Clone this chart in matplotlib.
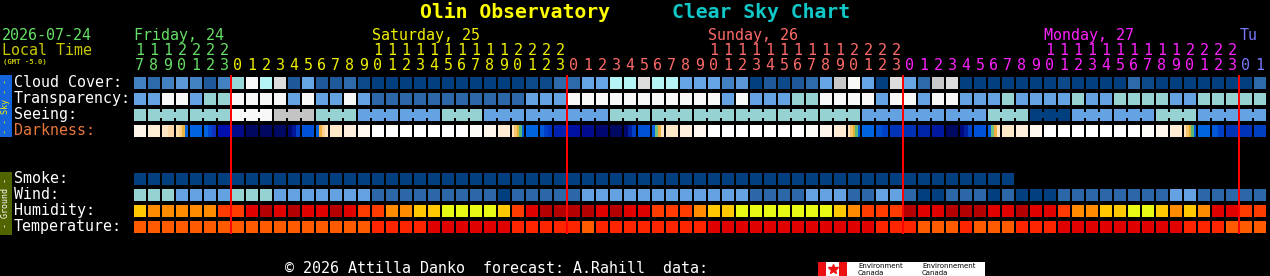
"""
Clear Sky Chart for Olin Observatory, redrawn with matplotlib
"""
import matplotlib
matplotlib.use('Agg')
import matplotlib.pyplot as plt

W, H = 1270, 276
X0 = 134          # left edge of the first hour cell
PITCH = 14        # one hour
CELL = 12
MONO = 'DejaVu Sans Mono'
FS = 10.8

START_HOUR = 17   # first column is Friday 17:00 local
N_HOURS = 81

day_labels = ['Friday, 24', 'Saturday, 25', 'Sunday, 26', 'Monday, 27', 'Tu']
day_colors = ['#66e066', '#f0f000', '#ff6a6a', '#ff22ff', '#7878ff']

# ---- sky rows (palette index per hour) ----
CLOUD_COLORS = ['#023f7f', '#0c4a8a', '#1e5a9a', '#2c6aaa', '#4282c2', '#5a98d8',
                '#66a6e6', '#98d8d8', '#b4f4f4', '#c8c8c8', '#dcdcdc', '#f8f8f8']
cloud = [4, 3, 4, 5, 4, 2, 4, 7, 11, 8,
         10, 2, 6, 2, 2, 3, 1, 0, 0, 0,
         0, 0, 0, 0, 0, 0, 0, 0, 1, 1,
         3, 3, 6, 6, 8, 8, 10, 8, 8, 6,
         6, 6, 4, 5, 0, 2, 1, 2, 3, 6,
         9, 11, 6, 0, 10, 6, 3, 9, 10, 0,
         0, 0, 0, 0, 0, 0, 1, 0, 0, 0,
         0, 3, 1, 0, 0, 0, 0, 0, 0, 0,
         3]

TRANSP_COLORS = ['#f8f8f8', '#96d2d2', '#64a2e2', '#2c68a8']
transparency = [2, 2, 0, 0, 2, 1, 1, 0, 0, 0,
                0, 2, 0, 2, 2, 0, 2, 3, 3, 3,
                3, 3, 3, 3, 3, 3, 3, 3, 2, 2,
                2, 0, 0, 0, 0, 0, 0, 0, 0, 0,
                0, 0, 2, 0, 2, 2, 2, 1, 1, 0,
                0, 0, 0, 2, 0, 0, 2, 0, 0, 2,
                2, 2, 1, 2, 2, 2, 2, 1, 2, 2,
                1, 1, 1, 1, 2, 2, 1, 1, 1, 1,
                1]

SEEING_COLORS = ['#023f7f', '#64a2e2', '#96d2d2', '#c4c4c4', '#f8f8f8']
seeing = [2,
          2, 2, 2, 2, 2, 2, 4, 4, 4, 3, 3, 3, 2, 2, 2, 1, 1, 1,
          1, 1, 1, 2, 2, 2, 1, 1, 1, 1, 1, 1, 1, 1, 1, 2, 2, 2,
          2, 2, 2, 2, 2, 2, 2, 2, 2, 2, 2, 2, 2, 2, 2, 1, 1, 1,
          1, 1, 1, 1, 1, 1, 2, 2, 2, 0, 0, 0, 1, 1, 1, 1, 1, 1,
          2, 2, 2, 1, 1, 1,
          1, 1]

WH = '#ffffff'
TW_EVE = ('#fde2bc', '#f6c46a', '#e0b030', '#58b878', '#0060e0')
TW_MORN = ('#0060e0', '#70c080', '#f0b040', '#fde6c6')
darkness = [
    ('#fff6ea',), ('#fdeed6',), ('#fde6c6', '#fcd8a8'),
    ('#fde0b0', '#fccf8a', '#e8b43c', '#0064e0'),
    ('#0064e0',), ('#0064e0', '#0046d0', '#1030c0'), ('#0010b0',),
    ('#000a8a',), ('#000862',), ('#000862',), ('#000862',),
    ('#000870', '#001898', '#0040c8'), ('#0050d8',),
    ('#0064e0', '#f0b040', '#fcd090', '#fde4c0'),
    ('#fde8c8',), ('#fef0dc',), ('#fff8ee',),
    (WH,), (WH,), (WH,), (WH,), (WH,), (WH,), (WH,),
    ('#fffcf8',), ('#fff6ec',), ('#feecd4',), TW_EVE,
    ('#0064e0',), ('#0058d8', '#0040c8', '#0030c0'), ('#0020b0',),
    ('#0010a0',), ('#000c90',), ('#000870',), ('#000862',),
    ('#000870', '#0020a0', '#0040c8'), ('#0050d8',), TW_MORN,
    ('#fde8c8',), ('#fef0dc',), ('#fff8ee',),
    (WH,), (WH,), (WH,), (WH,), (WH,), (WH,), (WH,),
    ('#fffcf8',), ('#fff6ec',), ('#feecd4',), TW_EVE,
    ('#0064e0',), ('#0050d0', '#0040c8'), ('#0034b8',),
    ('#0030b4',), ('#0024a8',), ('#0018a0',), ('#000862',),
    ('#000a80', '#0020a0', '#0044c8'), ('#0050d8',), TW_MORN,
    ('#fde8c8',), ('#fef0dc',), ('#fff8ee',),
    (WH,), (WH,), (WH,), (WH,), (WH,), (WH,), (WH,),
    ('#fffcf8',), ('#fff6ec',), ('#feecd4',), TW_EVE,
    ('#0064e0',), ('#0058d8', '#0040c8'), ('#0034b8',),
    ('#0034b8',), ('#0040c0',),
]

# ---- ground rows ----
SMOKE_COLORS = ['#023f7f']
smoke = [0] * 63

WIND_COLORS = ['#023f7f', '#2c68a8', '#64a2e2', '#96d2d2']
wind = [3, 3, 3, 2, 2, 2, 2, 3, 3, 3,
        2, 2, 2, 2, 2, 2, 2, 1, 1, 1,
        1, 1, 1, 1, 1, 1, 0, 1, 1, 1,
        1, 1, 2, 2, 2, 2, 2, 2, 2, 2,
        2, 2, 2, 2, 1, 1, 1, 1, 2, 2,
        2, 1, 1, 2, 2, 1, 0, 0, 1, 1,
        1, 0, 1, 0, 0, 0, 1, 1, 1, 1,
        1, 1, 1, 1, 2, 2, 1, 1, 1, 1,
        1]

HUM_COLORS = ['#e8fa14', '#ffc800', '#ff8c00', '#ff3c00', '#e00000', '#b40000']
humidity = [1, 2, 2, 2, 2, 2, 3, 3, 4, 5,
            4, 5, 4, 4, 5, 4, 3, 3, 2, 2,
            1, 1, 0, 0, 0, 0, 1, 3, 4, 5,
            5, 5, 5, 4, 5, 4, 4, 3, 3, 3,
            2, 1, 1, 0, 0, 0, 0, 0, 0, 0,
            1, 2, 3, 3, 3, 5, 4, 4, 5, 5,
            5, 4, 4, 5, 4, 4, 3, 2, 2, 1,
            1, 0, 0, 1, 2, 1, 2, 4, 4, 3,
            3]

TEMP_COLORS = ['#e00000', '#ff2400', '#ff5a00']
temperature = [2, 2, 2, 2, 2, 2, 2, 2, 2, 2,
               2, 2, 2, 2, 2, 2, 2, 1, 1, 1,
               1, 0, 0, 0, 0, 0, 0, 1, 1, 1,
               1, 1, 2, 1, 1, 1, 1, 1, 1, 1,
               1, 0, 0, 0, 0, 0, 0, 0, 0, 0,
               0, 0, 0, 1, 1, 1, 2, 2, 2, 1,
               2, 2, 2, 1, 1, 1, 0, 0, 0, 0,
               0, 0, 0, 0, 0, 1, 1, 1, 2, 2,
               2]

sky_rows = [('Cloud Cover:', 77, '#ffffff'), ('Transparency:', 93, '#ffffff'),
            ('Seeing:', 109, '#ffffff'), ('Darkness:', 125, '#e8763a')]
ground_rows = [('Smoke:', 173), ('Wind:', 189), ('Humidity:', 205), ('Temperature:', 221)]


def col_x(i):
    return X0 + PITCH * i


def draw_row(ax, top, values, palette):
    xs = [col_x(i) for i in range(len(values))]
    ax.bar(xs, CELL, width=CELL, bottom=top, align='edge',
           color=[palette[v] for v in values], linewidth=0)


fig = plt.figure(figsize=(W / 100, H / 100), dpi=100, facecolor='black')
ax = fig.add_axes([0, 0, 1, 1])
ax.set_xlim(0, W)
ax.set_ylim(H, 0)
ax.set_facecolor('black')
ax.axis('off')

# title
ax.text(420, 18.5, 'Olin Observatory', color='#ffff00', fontsize=14.2,
        fontweight='bold', family=MONO, va='baseline')
ax.text(672, 18.5, 'Clear Sky Chart', color='#10c8c8', fontsize=14.2,
        fontweight='bold', family=MONO, va='baseline')

# header on the left
ax.text(2, 40, '2026-07-24', color=day_colors[0], fontsize=FS, family=MONO, va='baseline')
ax.text(2, 55, 'Local Time', color='#c8c800', fontsize=FS, family=MONO, va='baseline')
ax.text(3, 64, '(GMT -5.0)', color='#c8c800', fontsize=5.2, family=MONO,
        fontweight='bold', va='baseline')

# hour labels and day names
hours = [(START_HOUR + i) % 24 for i in range(N_HOURS)]
day_of = [(START_HOUR + i) // 24 for i in range(N_HOURS)]
for i, h in enumerate(hours):
    c = day_colors[day_of[i]]
    cx = col_x(i) + CELL / 2
    if h >= 10:
        ax.text(cx, 55, str(h // 10), color=c, fontsize=FS, family=MONO,
                ha='center', va='baseline')
    ax.text(cx, 70, str(h % 10), color=c, fontsize=FS, family=MONO,
            ha='center', va='baseline')
for d, label in enumerate(day_labels):
    cols = [i for i in range(N_HOURS) if day_of[i] == d]
    tens = [i for i in cols if hours[i] >= 10]
    start = tens[0] if tens else cols[0]
    ax.text(col_x(start), 40, label, color=day_colors[d], fontsize=FS,
            family=MONO, va='baseline')

# side bars
ax.bar(0, 62, width=12, bottom=75, align='edge', color='#1464dc', linewidth=0)
ax.text(6, 106, '- - Sky - -', color='#f0f000', fontsize=6, family=MONO,
        rotation=90, ha='center', va='center')
ax.bar(0, 63, width=12, bottom=172, align='edge', color='#506400', linewidth=0)
ax.text(6, 203.5, '- Ground -', color='#ffffff', fontsize=6, family=MONO,
        rotation=90, ha='center', va='center')

for label, top, color in sky_rows:
    ax.text(14, top + 9.7, label, color=color, fontsize=FS, family=MONO, va='baseline')
for label, top in ground_rows:
    ax.text(14, top + 9.7, label, color='#ffffff', fontsize=FS, family=MONO, va='baseline')

# sky cells
draw_row(ax, 77, cloud, CLOUD_COLORS)
draw_row(ax, 93, transparency, TRANSP_COLORS)
draw_row(ax, 109, seeing, SEEING_COLORS)
# seeing is forecast in 3 hour blocks: join the cells of a block
jx, jc = [], []
for i in range(len(seeing) - 1):
    if (i + 2) // 3 == (i + 3) // 3:
        jx.append(col_x(i) + CELL)
        jc.append(SEEING_COLORS[seeing[i]])
ax.bar(jx, CELL - 6, width=PITCH - CELL, bottom=109 + 3, align='edge',
       color=jc, linewidth=0)

for i, parts in enumerate(darkness):
    w = CELL / len(parts)
    xs = [col_x(i) + w * k for k in range(len(parts))]
    ax.bar(xs, CELL, width=w, bottom=125, align='edge', color=list(parts), linewidth=0)

# ground cells
draw_row(ax, 173, smoke, SMOKE_COLORS)
draw_row(ax, 189, wind, WIND_COLORS)
draw_row(ax, 205, humidity, HUM_COLORS)
draw_row(ax, 221, temperature, TEMP_COLORS)

# midnight markers
midnights = [i for i, h in enumerate(hours) if h == 0]
ax.bar([col_x(i) - 2 for i in midnights], 159, width=2, bottom=75, align='edge',
       color='#ff0000', linewidth=0)

# footer
ax.text(285, 273, '\u00a9 2026 Attilla Danko  forecast: A.Rahill  data:', color='#ffffff',
        fontsize=FS, family=MONO, va='baseline')

# Environment Canada logo
LX, LY = 818, 262
ax.bar(LX, 14, width=167, bottom=LY, align='edge', color='#ffffff', linewidth=0)
ax.bar([LX, LX + 21], 14, width=8, bottom=LY, align='edge', color='#ee1111', linewidth=0)
ax.plot([LX + 14.5], [LY + 7], marker='*', markersize=7, color='#ee1111', linestyle='none')
ax.text(LX + 40, LY + 6, 'Environment', color='black', fontsize=5, va='baseline')
ax.text(LX + 40, LY + 13, 'Canada', color='black', fontsize=5, va='baseline')
ax.text(LX + 104, LY + 6, 'Environnement', color='black', fontsize=5, va='baseline')
ax.text(LX + 104, LY + 13, 'Canada', color='black', fontsize=5, va='baseline')

fig.savefig('out.png', dpi=100, facecolor='black')
